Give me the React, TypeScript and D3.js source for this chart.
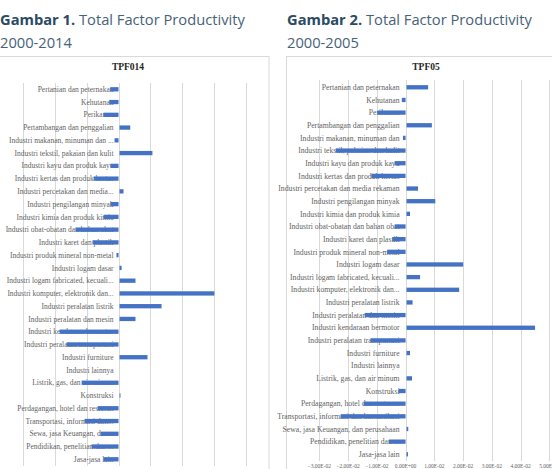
import React from 'react';
import * as d3 from 'd3';

// TPF 2000-2014 (left panel)
const sectors14 = [
  'Pertanian dan peternakan', 'Kehutanan', 'Perikanan', 'Pertambangan dan penggalian',
  'Industri makanan, minuman dan ...', 'Industri tekstil, pakaian dan kulit', 'Industri kayu dan produk kayu',
  'Industri kertas dan produk kertas', 'Industri percetakan dan media...', 'Industri pengilangan minyak',
  'Industri kimia dan produk kimia', 'Industri obat-obatan dan bahan obat', 'Industri karet dan plastik',
  'Industri produk mineral non-metal', 'Industri logam dasar', 'Industri logam fabricated, kecuali...',
  'Industri komputer, elektronik dan...', 'Industri peralatan listrik', 'Industri peralatan dan mesin',
  'Industri kendaraan bermotor', 'Industri peralatan transportasi', 'Industri furniture', 'Industri lainnya',
  'Listrik, gas, dan air minum', 'Konstruksi', 'Perdagangan, hotel dan restoran',
  'Transportasi, informasi dan...', 'Sewa, jasa Keuangan, dan...',
  'Pendidikan, penelitian dan ...', 'Jasa-jasa lain',
];
const tpf014 = [
  -0.0052, -0.0058, -0.0094, 0.0067, -0.0025, 0.0206, -0.005, -0.0156, 0.0025, -0.005,
  -0.0094, -0.0269, -0.0163, -0.0013, 0.0013, 0.01, 0.0594, 0.0263, 0.01, -0.0369,
  -0.0325, 0.0175, 0, -0.0231, 0.0006, -0.0131, -0.0213, -0.0113, -0.0169, -0.0094,
];
const ticks014 = [-0.06, -0.04, -0.02, 0, 0.02, 0.04, 0.06, 0.08];

// TPF 2000-2005 (right panel)
const sectors05 = [
  'Pertanian dan peternakan', 'Kehutanan', 'Perikanan', 'Pertambangan dan penggalian',
  'Industri makanan, minuman dan', 'Industri tekstil, pakaian dan kulit', 'Industri kayu dan produk kayu',
  'Industri kertas dan produk kertas', 'Industri percetakan dan media rekaman', 'Industri pengilangan minyak',
  'Industri kimia dan produk kimia', 'Industri obat-obatan dan bahan obat', 'Industri karet dan plastik',
  'Industri produk mineral non-metal', 'Industri logam dasar', 'Industri logam fabricated, kecuali...',
  'Industri komputer, elektronik dan...', 'Industri peralatan listrik', 'Industri peralatan dan mesin',
  'Industri kendaraan bermotor', 'Industri peralatan transportasi', 'Industri furniture', 'Industri lainnya',
  'Listrik, gas, dan air minum', 'Konstruksi', 'Perdagangan, hotel dan restoran',
  'Transportasi, informasi dan komunikasi', 'Sewa, jasa Keuangan, dan perusahaan',
  'Pendidikan, penelitian dan ...', 'Jasa-jasa lain',
];
const tpf05 = [
  0.0075, -0.0013, -0.0098, 0.0088, -0.0009, -0.0243, -0.0038, -0.0119, 0.004, 0.01,
  0.0012, -0.0038, -0.0046, -0.0064, 0.0197, 0.0047, 0.0183, 0.0021, -0.0142, 0.0447,
  -0.0122, 0.0012, 0, 0.0019, -0.0025, -0.0146, -0.0226, 0.0006, -0.0058, 0.0005,
];
const ticks05 = [-0.03, -0.02, -0.01, 0, 0.01, 0.02, 0.03, 0.04, 0.05];

const BAR = '#4472C4';
const GRID = '#d9d9d9';
const LABEL = '#5f5f5f';

interface Panel {
  name: string;
  cats: string[];
  values: number[];
  ticks: number[];
  box: [number, number, number];
  xRange: [number, number];
  yRange: [number, number];
  gridY: [number, number];
  titleX: number;
  labelGap: number;
  labelSize: number;
  showTicks: boolean;
  clipX: number;
}

const fmtTick = (d: number) => {
  // Excel-like scientific format: 2.00E-02
  const s = d3.format('.2e')(d);
  const [m, e] = s.split('e');
  const sign = e[0] === '-' ? '-' : '+';
  const digits = e.replace(/[+-]/, '').padStart(2, '0');
  return `${m}E${sign}${digits}`;
};

const App: React.FC = () => {
  const svgRef = React.useRef<SVGSVGElement>(null);

  React.useEffect(() => {
    if (!svgRef.current) return;
    const svg = d3.select(svgRef.current);
    svg.selectAll('*').remove();

    const defs = svg.append('defs');

    // Figure headings
    const headings = [
      { x: 0, bold: 'Gambar 1.', rest: ' Total Factor Productivity', line2: '2000-2014' },
      { x: 287, bold: 'Gambar 2.', rest: ' Total Factor Productivity', line2: '2000-2005' },
    ];
    headings.forEach(h => {
      const t = svg.append('text')
        .attr('x', h.x).attr('y', 25)
        .style('font-family', '"Open Sans", sans-serif')
        .style('font-size', '14.7px');
      t.append('tspan').attr('font-weight', 700).attr('fill', '#2b4a63').text(h.bold);
      t.append('tspan').attr('fill', '#46627a').text(h.rest);
      svg.append('text')
        .attr('x', h.x).attr('y', 47.5)
        .style('font-family', '"Open Sans", sans-serif')
        .style('font-size', '14.7px')
        .attr('fill', '#46627a')
        .text(h.line2);
    });

    const panels: Panel[] = [
      {
        name: 'TPF014', cats: sectors14, values: tpf014, ticks: ticks014,
        box: [-1, 56.5, 270], xRange: [22.7, 246.3], yRange: [89.3, 459.3], gridY: [83, 466],
        titleX: 128, labelGap: 5, labelSize: 7.5, showTicks: false, clipX: 0,
      },
      {
        name: 'TPF05', cats: sectors05, values: tpf05, ticks: ticks05,
        box: [286.5, 56.5, 270], xRange: [319.3, 549.3], yRange: [87.3, 454.3], gridY: [80, 461],
        titleX: 426, labelGap: 6, labelSize: 7.7, showTicks: true, clipX: 276,
      },
    ];

    panels.forEach((p, pi) => {
      const clipId = `clip-${pi}`;
      defs.append('clipPath').attr('id', clipId)
        .append('rect').attr('x', p.clipX).attr('y', 0).attr('width', 552 - p.clipX).attr('height', 469);

      const g = svg.append('g').attr('clip-path', `url(#${clipId})`);

      g.append('rect')
        .attr('x', p.box[0]).attr('y', p.box[1])
        .attr('width', p.box[2]).attr('height', 430)
        .attr('fill', '#fff').attr('stroke', GRID).attr('stroke-width', 1);

      const x = d3.scaleLinear()
        .domain([p.ticks[0], p.ticks[p.ticks.length - 1]])
        .range(p.xRange);
      const y = d3.scalePoint<string>()
        .domain(p.cats.map((c, i) => `${i}`))
        .range(p.yRange);

      // gridlines
      g.append('g').selectAll('line')
        .data(p.ticks)
        .join('line')
        .attr('x1', d => Math.round(x(d)) + 0.5).attr('x2', d => Math.round(x(d)) + 0.5)
        .attr('y1', p.gridY[0]).attr('y2', p.gridY[1])
        .attr('stroke', GRID).attr('stroke-width', 1);

      // tick labels, sitting on the bottom edge of the picture
      if (p.showTicks) {
        g.append('g').selectAll('text')
          .data(p.ticks)
          .join('text')
          .attr('x', d => x(d)).attr('y', 468)
          .attr('text-anchor', 'middle')
          .style('font-family', '"Liberation Serif", serif')
          .style('font-size', '5.5px')
          .attr('fill', LABEL)
          .text(d => fmtTick(d));
      }

      // category labels next to the axis
      g.append('g').selectAll('text')
        .data(p.cats)
        .join('text')
        .attr('x', x(0) - p.labelGap)
        .attr('y', (_, i) => y(`${i}`)!)
        .attr('dy', '0.35em')
        .attr('text-anchor', 'end')
        .style('font-family', '"Liberation Serif", serif')
        .style('font-size', `${p.labelSize}px`)
        .attr('fill', LABEL)
        .text(d => d);

      // bars
      const bh = 4.3;
      g.append('g').selectAll('rect')
        .data(p.values)
        .join('rect')
        .attr('x', d => Math.min(x(0), x(d)) + (d > 0 ? 1 : 0))
        .attr('y', (_, i) => y(`${i}`)! - bh / 2)
        .attr('width', d => Math.abs(x(d) - x(0)))
        .attr('height', bh)
        .attr('fill', BAR);

      g.append('text')
        .attr('x', p.titleX).attr('y', 70)
        .attr('text-anchor', 'middle')
        .style('font-family', '"Liberation Serif", serif')
        .style('font-size', '9.5px')
        .style('font-weight', '700')
        .attr('fill', '#262626')
        .text(p.name);
    });
  }, []);

  return (
    <svg
      ref={svgRef}
      width={552}
      height={469}
      viewBox="0 0 552 469"
      style={{ position: 'absolute', left: 0, top: 0, background: '#fff' }}
    />
  );
};

export default App;
